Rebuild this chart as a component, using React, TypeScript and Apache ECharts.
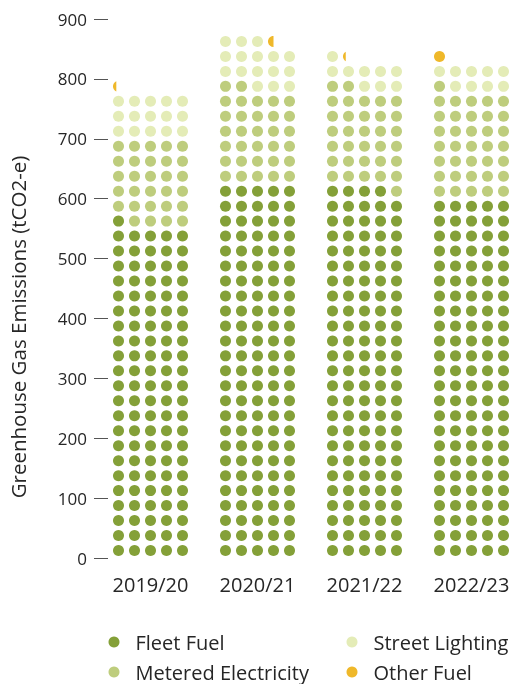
import React, { useEffect, useRef } from "react";
import * as echarts from "echarts";

const years = ["2019/20", "2020/21", "2021/22", "2022/23"];
const fleetFuel = [555, 625, 620, 600];
const meteredElectricity = [145, 160, 165, 180];
const streetLighting = [75, 80, 45, 45];
const otherFuel = [1.5, 2.5, 1.25, 5];

const yMin = 0;
const yMax = 900;
const yInterval = 100;

const UNIT = 5; // tCO2-e per dot
const DOTS_PER_ROW = 5;

const seriesDefs = [
  { name: "Fleet Fuel", values: fleetFuel, color: "#84A038" },
  { name: "Metered Electricity", values: meteredElectricity, color: "#BECD7D" },
  { name: "Street Lighting", values: streetLighting, color: "#E4ECB7" },
  { name: "Other Fuel", values: otherFuel, color: "#EFB82A" },
];

const FONT = "'Open Sans', sans-serif";
const TEXT = "#262626";

function dotRenderer(color: string) {
  return (_params: any, api: any) => {
    const cat = api.value(0);
    const start = api.value(1);
    const val = api.value(2);
    const centerX = api.coord([cat, 0])[0];
    const r = 5.5;
    const gap = 16;
    const startDot = Math.round(start / UNIT);
    const n = val / UNIT;
    const children: any[] = [];
    for (let i = 0; i < n - 1e-9; i++) {
      const idx = startDot + i;
      const row = Math.floor(idx / DOTS_PER_ROW);
      const col = idx % DOTS_PER_ROW;
      const cy = api.coord([cat, (row + 0.5) * UNIT * DOTS_PER_ROW])[1];
      const cx = centerX + (col - (DOTS_PER_ROW - 1) / 2) * gap;
      const frac = Math.min(1, n - i);
      if (frac >= 0.999) {
        children.push({ type: "circle", shape: { cx, cy, r }, style: { fill: color } });
      } else {
        const xc = -r + 2 * r * frac;
        const a0 = Math.acos(Math.max(-1, Math.min(1, xc / r)));
        const pts: number[][] = [];
        const steps = 28;
        for (let s = 0; s <= steps; s++) {
          const t = a0 + ((2 * Math.PI - 2 * a0) * s) / steps;
          pts.push([cx + r * Math.cos(t), cy + r * Math.sin(t)]);
        }
        children.push({ type: "polygon", shape: { points: pts }, style: { fill: color } });
      }
    }
    return { type: "group", children };
  };
}

export default function App() {
  const ref = useRef<HTMLDivElement>(null);
  useEffect(() => {
    if (!ref.current) return;
    const chart = echarts.init(ref.current, undefined, { renderer: "svg" });
    const base = years.map(() => 0);
    const series = seriesDefs.map((def) => {
      const data = years.map((_, c) => {
        const item = [c, base[c], def.values[c]];
        base[c] += def.values[c];
        return item;
      });
      return {
        type: "custom",
        name: def.name,
        itemStyle: { color: def.color },
        encode: { x: 0, y: 1 },
        renderItem: dotRenderer(def.color),
        data,
      };
    });
    const legendCommon = {
      orient: "vertical",
      icon: "circle",
      itemWidth: 11,
      itemHeight: 11,
      itemGap: 10,
      top: 632,
      height: 51,
      padding: 0,
      selectedMode: false,
      textStyle: {
        fontFamily: FONT,
        fontSize: 20,
        color: TEXT,
        lineHeight: 20,
        padding: [0, 0, 0, 11],
      },
    };
    chart.setOption({
      animation: false,
      grid: { left: 97, width: 438, top: 19, bottom: 126 },
      xAxis: {
        type: "category",
        data: years,
        axisLine: { show: false },
        axisTick: { show: false },
        axisLabel: { margin: 16, fontFamily: FONT, fontSize: 20, color: TEXT },
      },
      yAxis: {
        type: "value",
        min: yMin,
        max: yMax,
        interval: yInterval,
        offset: -11,
        axisLine: { show: false },
        axisTick: { show: true, length: 14, lineStyle: { color: "#555", width: 1 } },
        splitLine: { show: false },
        axisLabel: { margin: 21, fontFamily: FONT, fontSize: 17, color: TEXT },
      },
      legend: [
        { ...legendCommon, left: 108.5, data: ["Fleet Fuel", "Metered Electricity"] },
        { ...legendCommon, left: 346.5, data: ["Street Lighting", "Other Fuel"] },
      ],
      graphic: [
        {
          type: "text",
          x: 18,
          y: 327,
          rotation: Math.PI / 2,
          style: {
            text: "Greenhouse Gas Emissions (tCO2-e)",
            fontFamily: FONT,
            fontSize: 20.5,
            fill: TEXT,
            align: "center",
            verticalAlign: "middle",
          },
        },
      ],
      series,
    });
    return () => chart.dispose();
  }, []);
  return (
    <div
      ref={ref}
      style={{ position: "fixed", left: 0, top: 0, width: 525, height: 684 }}
    />
  );
}
